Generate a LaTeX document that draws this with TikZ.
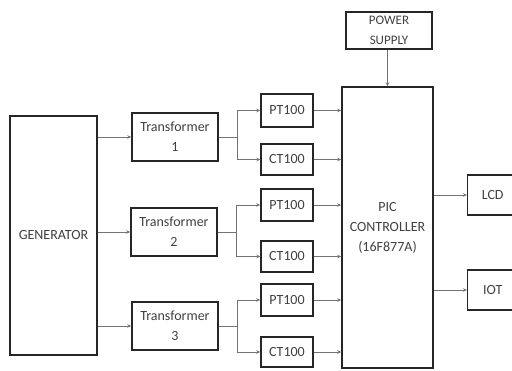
\documentclass[tikz,border=0pt]{standalone}
\usepackage{fontspec}
\setmainfont{Carlito}
\usetikzlibrary{arrows.meta}
\begin{document}
\begin{tikzpicture}[x=1pt,y=-1pt,
  blk/.style={draw=black!85,line width=1.4pt,inner sep=0pt,align=center,font=\fontsize{14}{20}\selectfont,text=black!75},
  conn/.style={draw=black!55,line width=0.7pt,-{Stealth[length=4pt,width=3.5pt]}},
  plain/.style={draw=black!55,line width=0.7pt}]
\useasboundingbox (0,0) rectangle (512,370);
\clip (0,0) rectangle (512,370);
% blocks
\node[blk,minimum width=87pt,minimum height=239pt] (gen) at (53.5,235.5) {GENERATOR};
\node[blk,minimum width=86pt,minimum height=48pt] (t1) at (175,137) {Transformer\\1};
\node[blk,minimum width=86pt,minimum height=48pt] (t2) at (174,232) {Transformer\\2};
\node[blk,minimum width=86pt,minimum height=48pt] (t3) at (175,326) {Transformer\\3};
\node[blk,minimum width=52pt,minimum height=33pt] (p1) at (287,110.5) {PT100};
\node[blk,minimum width=52pt,minimum height=31pt] (c1) at (287,159.5) {CT100};
\node[blk,minimum width=52pt,minimum height=32pt] (p2) at (287,205) {PT100};
\node[blk,minimum width=52pt,minimum height=31pt] (c2) at (287,256.5) {CT100};
\node[blk,minimum width=52pt,minimum height=32pt] (p3) at (287,300) {PT100};
\node[blk,minimum width=52pt,minimum height=30pt] (c3) at (287,352) {CT100};
\node[blk,minimum width=91pt,minimum height=281pt] (pic) at (387.5,227.5) {PIC\\CONTROLLER\\(16F877A)};
\node[blk,minimum width=86pt,minimum height=37pt,font=\fontsize{13}{20}\selectfont] (ps) at (389,30.5) {POWER\\SUPPLY};
\node[blk,minimum width=50pt,minimum height=40pt,anchor=west] (lcd) at (467,195) {LCD};
\node[blk,minimum width=50pt,minimum height=40pt,anchor=west] (iot) at (467,290) {IOT};
% generator to transformers
\draw[conn] (gen.east |- t1) -- (t1.west);
\draw[conn] (gen.east |- t2) -- (t2.west);
\draw[conn] (gen.east |- t3) -- (t3.west);
% branches
\foreach \t/\p/\c in {t1/p1/c1,t2/p2/c2,t3/p3/c3}{
  \coordinate (j\t) at ([xshift=19pt]\t.east);
  \draw[plain] (\t.east) -- (j\t);
  \draw[conn] (j\t) |- (\p.west);
  \draw[conn] (j\t) |- (\c.west);
  \draw[conn] (\p.east) -- (pic.west |- \p);
  \draw[conn] (\c.east) -- (pic.west |- \c);
}
\draw[conn] (ps.south -| pic.north) -- (pic.north);
\draw[conn] (pic.east |- lcd) -- (lcd.west);
\draw[conn] (pic.east |- iot) -- (iot.west);
\end{tikzpicture}
\end{document}
